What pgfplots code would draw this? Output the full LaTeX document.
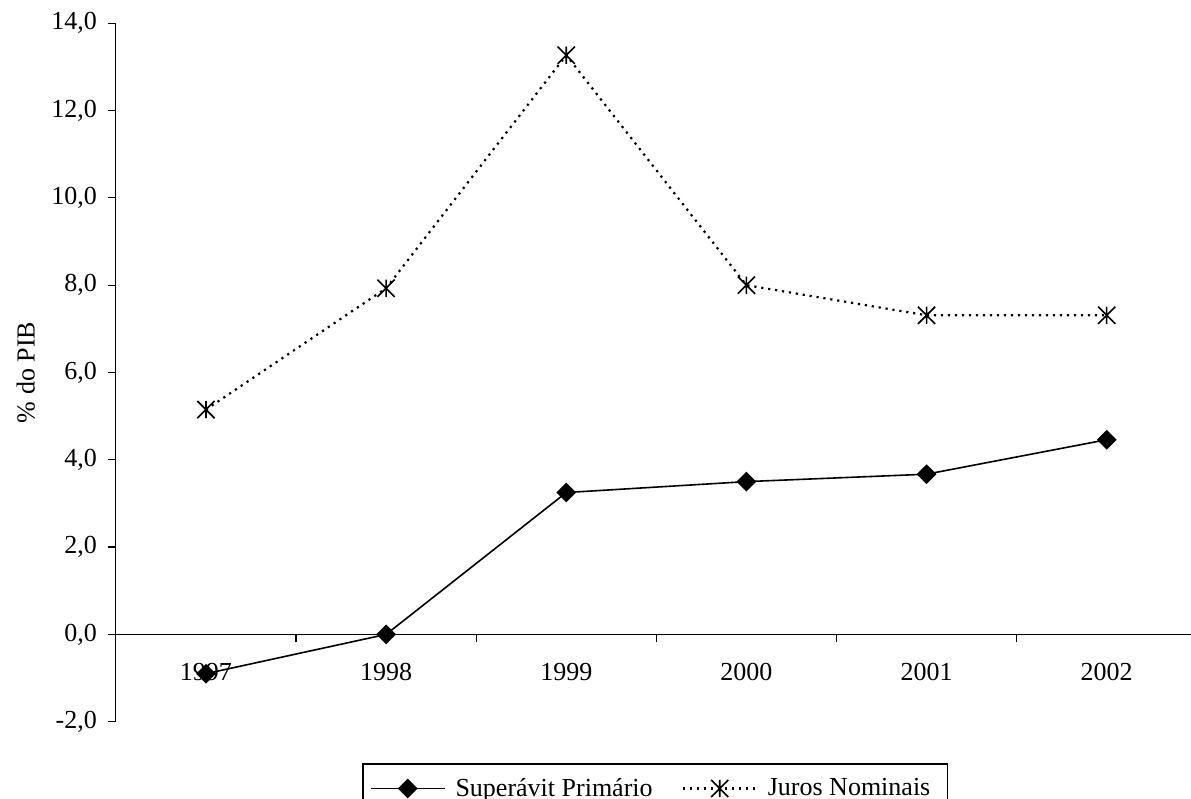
\documentclass[border=0pt]{standalone}
\usepackage{fontspec}
\setmainfont{Liberation Serif}
\usepackage{pgfplots}
\pgfplotsset{compat=1.18}

% six-armed star: an X with a vertical bar through it
\pgfdeclareplotmark{xstar}{%
  \pgfpathmoveto{\pgfqpoint{-\pgfplotmarksize}{-\pgfplotmarksize}}%
  \pgfpathlineto{\pgfqpoint{\pgfplotmarksize}{\pgfplotmarksize}}%
  \pgfpathmoveto{\pgfqpoint{-\pgfplotmarksize}{\pgfplotmarksize}}%
  \pgfpathlineto{\pgfqpoint{\pgfplotmarksize}{-\pgfplotmarksize}}%
  \pgfpathmoveto{\pgfqpoint{0pt}{-\pgfplotmarksize}}%
  \pgfpathlineto{\pgfqpoint{0pt}{\pgfplotmarksize}}%
  \pgfusepathqstroke}

\begin{document}
\begin{tikzpicture}[font=\fontsize{13}{16}\selectfont]
\begin{axis}[
  name=ax,
  at={(0,0)}, anchor=south west,
  scale only axis,
  width=537.55pt, height=349.2pt,
  xmin=-0.5, xmax=5.468,
  ymin=-2, ymax=14,
  axis y line=left,
  axis x line=middle,
  axis line style={-, line width=0.6pt, black},
  xtick={0,1,2,3,4,5},
  xticklabels={1997,1998,1999,2000,2001,2002},
  minor xtick={0.5,1.5,2.5,3.5,4.5},
  major x tick style={draw=none},
  minor x tick style={line width=0.6pt, black},
  ytick={-2,0,...,14},
  y tick style={line width=0.6pt, black},
  tick align=outside,
  major tick length=4pt,
  minor tick length=4pt,
  xticklabel style={anchor=center, yshift=-15pt},
  yticklabel style={xshift=-2pt, /pgf/number format/.cd, fixed, fixed zerofill, precision=1, use comma, assume math mode=true},
  ylabel={\% do PIB},
  ylabel style={at={([xshift=-45pt]axis description cs:0,0.5)}, anchor=center, rotate=0},
  legend columns=2,
  legend cell align=left,
  legend style={at={(axis description cs:0.2292,-0.0596)}, anchor=north west,
    draw=black, line width=0.6pt, inner xsep=3.5pt, inner ysep=5pt,
    font=\fontsize{13}{16}\selectfont,
    nodes={inner xsep=5pt},
    /tikz/every even column/.append style={column sep=9.5pt}},
  legend image code/.code={%
    \draw[mark repeat=2, mark phase=2, #1] plot coordinates {(0pt,0pt) (18.5pt,0pt) (37pt,0pt)};},
]
% primary surplus
\addplot[black, line width=0.8pt, mark=square*, mark size=3.1pt,
  mark options={solid, rotate=45, fill=black}]
  coordinates {(0,-0.9) (1,0.0) (2,3.25) (3,3.5) (4,3.67) (5,4.46)};
\addlegendentry{Superávit Primário}
% nominal interest
\addplot[black, line width=1.1pt, dash pattern=on 1.1pt off 2.4pt, mark=xstar, mark size=4.3pt,
  mark options={solid, line width=0.8pt}]
  coordinates {(0,5.15) (1,7.93) (2,13.27) (3,8.0) (4,7.31) (5,7.31)};
\addlegendentry{Juros Nominais}
\end{axis}
\pgfresetboundingbox
\path ([shift={(-57.95pt,-38.65pt)}]ax.south west) rectangle ([shift={(0pt,11.65pt)}]ax.north east);
\end{tikzpicture}
\end{document}
